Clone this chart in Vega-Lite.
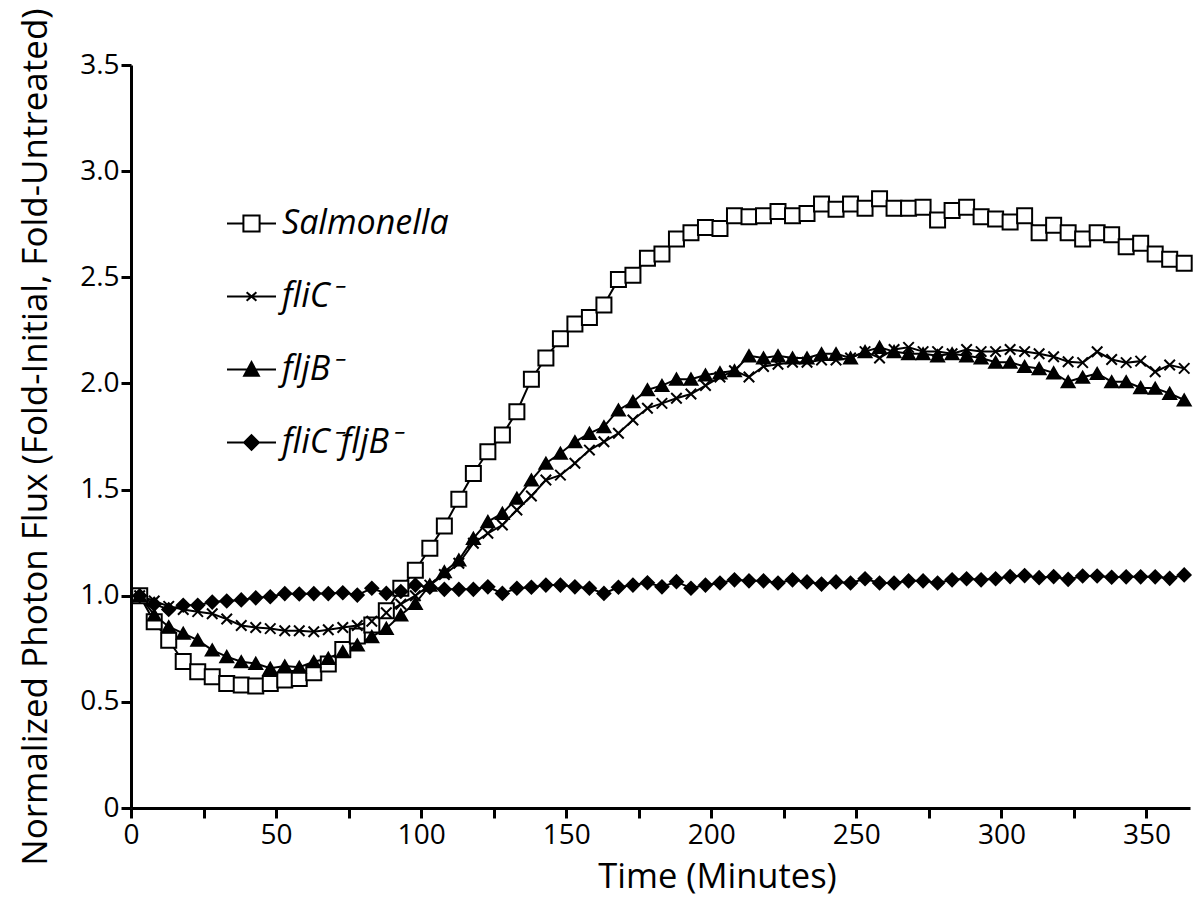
{
"$schema": "https://vega.github.io/schema/vega-lite/v6.json",
"width": 1059, "height": 743,
"autosize": {"type": "none"},
"padding": {"left": 131, "top": 65, "right": 11, "bottom": 107},
"background": "white",
"config": {"view": {"stroke": null},
  "legend": {"orient": "none", "legendX": 95, "legendY": 133, "title": null, "padding": 0,
    "labelFont": "Open Sans", "labelFontStyle": "italic", "labelFontSize": 34, "labelColor": "black", "labelOffset": 5, "labelLimit": 0,
    "symbolSize": 2401, "symbolStrokeWidth": 2, "symbolOpacity": 1, "rowPadding": 30}},
"data": {"values": [
{"t":3,"s":"Salmonella","v":1.00},{"t":8,"s":"Salmonella","v":0.877},{"t":13,"s":"Salmonella","v":0.79},{"t":18,"s":"Salmonella","v":0.69},{"t":23,"s":"Salmonella","v":0.642},{"t":28,"s":"Salmonella","v":0.618},{"t":33,"s":"Salmonella","v":0.587},{"t":38,"s":"Salmonella","v":0.579},{"t":43,"s":"Salmonella","v":0.575},{"t":48,"s":"Salmonella","v":0.587},
{"t":53,"s":"Salmonella","v":0.603},{"t":58,"s":"Salmonella","v":0.61},{"t":63,"s":"Salmonella","v":0.637},{"t":68,"s":"Salmonella","v":0.678},{"t":73,"s":"Salmonella","v":0.747},{"t":78,"s":"Salmonella","v":0.81},{"t":83,"s":"Salmonella","v":0.862},{"t":88,"s":"Salmonella","v":0.929},{"t":93,"s":"Salmonella","v":1.035},{"t":98,"s":"Salmonella","v":1.12},
{"t":103,"s":"Salmonella","v":1.223},{"t":108,"s":"Salmonella","v":1.328},{"t":113,"s":"Salmonella","v":1.454},{"t":118,"s":"Salmonella","v":1.576},{"t":123,"s":"Salmonella","v":1.678},{"t":128,"s":"Salmonella","v":1.757},{"t":133,"s":"Salmonella","v":1.867},{"t":138,"s":"Salmonella","v":2.02},{"t":143,"s":"Salmonella","v":2.12},{"t":148,"s":"Salmonella","v":2.21},
{"t":153,"s":"Salmonella","v":2.28},{"t":158,"s":"Salmonella","v":2.31},{"t":163,"s":"Salmonella","v":2.37},{"t":168,"s":"Salmonella","v":2.49},{"t":173,"s":"Salmonella","v":2.51},{"t":178,"s":"Salmonella","v":2.59},{"t":183,"s":"Salmonella","v":2.61},{"t":188,"s":"Salmonella","v":2.68},{"t":193,"s":"Salmonella","v":2.71},{"t":198,"s":"Salmonella","v":2.735},
{"t":203,"s":"Salmonella","v":2.73},{"t":208,"s":"Salmonella","v":2.79},{"t":213,"s":"Salmonella","v":2.785},{"t":218,"s":"Salmonella","v":2.79},{"t":223,"s":"Salmonella","v":2.81},{"t":228,"s":"Salmonella","v":2.79},{"t":233,"s":"Salmonella","v":2.80},{"t":238,"s":"Salmonella","v":2.845},{"t":243,"s":"Salmonella","v":2.82},{"t":248,"s":"Salmonella","v":2.845},
{"t":253,"s":"Salmonella","v":2.825},{"t":258,"s":"Salmonella","v":2.87},{"t":263,"s":"Salmonella","v":2.825},{"t":268,"s":"Salmonella","v":2.825},{"t":273,"s":"Salmonella","v":2.83},{"t":278,"s":"Salmonella","v":2.77},{"t":283,"s":"Salmonella","v":2.815},{"t":288,"s":"Salmonella","v":2.83},{"t":293,"s":"Salmonella","v":2.785},{"t":298,"s":"Salmonella","v":2.775},
{"t":303,"s":"Salmonella","v":2.76},{"t":308,"s":"Salmonella","v":2.79},{"t":313,"s":"Salmonella","v":2.71},{"t":318,"s":"Salmonella","v":2.745},{"t":323,"s":"Salmonella","v":2.71},{"t":328,"s":"Salmonella","v":2.68},{"t":333,"s":"Salmonella","v":2.71},{"t":338,"s":"Salmonella","v":2.70},{"t":343,"s":"Salmonella","v":2.644},{"t":348,"s":"Salmonella","v":2.66},
{"t":353,"s":"Salmonella","v":2.61},{"t":358,"s":"Salmonella","v":2.585},{"t":363,"s":"Salmonella","v":2.566},
{"t":3,"s":"fliC\u207b","v":1.00},{"t":8,"s":"fliC\u207b","v":0.975},{"t":13,"s":"fliC\u207b","v":0.95},{"t":18,"s":"fliC\u207b","v":0.935},{"t":23,"s":"fliC\u207b","v":0.925},{"t":28,"s":"fliC\u207b","v":0.915},{"t":33,"s":"fliC\u207b","v":0.89},{"t":38,"s":"fliC\u207b","v":0.86},{"t":43,"s":"fliC\u207b","v":0.85},{"t":48,"s":"fliC\u207b","v":0.845},
{"t":53,"s":"fliC\u207b","v":0.835},{"t":58,"s":"fliC\u207b","v":0.835},{"t":63,"s":"fliC\u207b","v":0.83},{"t":68,"s":"fliC\u207b","v":0.84},{"t":73,"s":"fliC\u207b","v":0.85},{"t":78,"s":"fliC\u207b","v":0.86},{"t":83,"s":"fliC\u207b","v":0.88},{"t":88,"s":"fliC\u207b","v":0.92},{"t":93,"s":"fliC\u207b","v":0.96},{"t":98,"s":"fliC\u207b","v":1.00},
{"t":103,"s":"fliC\u207b","v":1.05},{"t":108,"s":"fliC\u207b","v":1.10},{"t":113,"s":"fliC\u207b","v":1.153},{"t":118,"s":"fliC\u207b","v":1.247},{"t":123,"s":"fliC\u207b","v":1.294},{"t":128,"s":"fliC\u207b","v":1.333},{"t":133,"s":"fliC\u207b","v":1.404},{"t":138,"s":"fliC\u207b","v":1.47},{"t":143,"s":"fliC\u207b","v":1.545},{"t":148,"s":"fliC\u207b","v":1.568},
{"t":153,"s":"fliC\u207b","v":1.624},{"t":158,"s":"fliC\u207b","v":1.686},{"t":163,"s":"fliC\u207b","v":1.725},{"t":168,"s":"fliC\u207b","v":1.765},{"t":173,"s":"fliC\u207b","v":1.828},{"t":178,"s":"fliC\u207b","v":1.883},{"t":183,"s":"fliC\u207b","v":1.906},{"t":188,"s":"fliC\u207b","v":1.93},{"t":193,"s":"fliC\u207b","v":1.95},{"t":198,"s":"fliC\u207b","v":1.99},
{"t":203,"s":"fliC\u207b","v":2.03},{"t":208,"s":"fliC\u207b","v":2.06},{"t":213,"s":"fliC\u207b","v":2.03},{"t":218,"s":"fliC\u207b","v":2.08},{"t":223,"s":"fliC\u207b","v":2.09},{"t":228,"s":"fliC\u207b","v":2.10},{"t":233,"s":"fliC\u207b","v":2.10},{"t":238,"s":"fliC\u207b","v":2.11},{"t":243,"s":"fliC\u207b","v":2.11},{"t":248,"s":"fliC\u207b","v":2.12},
{"t":253,"s":"fliC\u207b","v":2.15},{"t":258,"s":"fliC\u207b","v":2.12},{"t":263,"s":"fliC\u207b","v":2.16},{"t":268,"s":"fliC\u207b","v":2.17},{"t":273,"s":"fliC\u207b","v":2.15},{"t":278,"s":"fliC\u207b","v":2.15},{"t":283,"s":"fliC\u207b","v":2.14},{"t":288,"s":"fliC\u207b","v":2.16},{"t":293,"s":"fliC\u207b","v":2.15},{"t":298,"s":"fliC\u207b","v":2.15},
{"t":303,"s":"fliC\u207b","v":2.16},{"t":308,"s":"fliC\u207b","v":2.15},{"t":313,"s":"fliC\u207b","v":2.14},{"t":318,"s":"fliC\u207b","v":2.126},{"t":323,"s":"fliC\u207b","v":2.102},{"t":328,"s":"fliC\u207b","v":2.098},{"t":333,"s":"fliC\u207b","v":2.149},{"t":338,"s":"fliC\u207b","v":2.113},{"t":343,"s":"fliC\u207b","v":2.098},{"t":348,"s":"fliC\u207b","v":2.105},
{"t":353,"s":"fliC\u207b","v":2.055},{"t":358,"s":"fliC\u207b","v":2.087},{"t":363,"s":"fliC\u207b","v":2.071},
{"t":3,"s":"fljB\u207b","v":1.00},{"t":8,"s":"fljB\u207b","v":0.909},{"t":13,"s":"fljB\u207b","v":0.854},{"t":18,"s":"fljB\u207b","v":0.823},{"t":23,"s":"fljB\u207b","v":0.791},{"t":28,"s":"fljB\u207b","v":0.744},{"t":33,"s":"fljB\u207b","v":0.713},{"t":38,"s":"fljB\u207b","v":0.689},{"t":43,"s":"fljB\u207b","v":0.681},{"t":48,"s":"fljB\u207b","v":0.658},
{"t":53,"s":"fljB\u207b","v":0.669},{"t":58,"s":"fljB\u207b","v":0.663},{"t":63,"s":"fljB\u207b","v":0.689},{"t":68,"s":"fljB\u207b","v":0.705},{"t":73,"s":"fljB\u207b","v":0.736},{"t":78,"s":"fljB\u207b","v":0.768},{"t":83,"s":"fljB\u207b","v":0.807},{"t":88,"s":"fljB\u207b","v":0.846},{"t":93,"s":"fljB\u207b","v":0.909},{"t":98,"s":"fljB\u207b","v":0.964},
{"t":103,"s":"fljB\u207b","v":1.05},{"t":108,"s":"fljB\u207b","v":1.113},{"t":113,"s":"fljB\u207b","v":1.168},{"t":118,"s":"fljB\u207b","v":1.27},{"t":123,"s":"fljB\u207b","v":1.349},{"t":128,"s":"fljB\u207b","v":1.388},{"t":133,"s":"fljB\u207b","v":1.459},{"t":138,"s":"fljB\u207b","v":1.545},{"t":143,"s":"fljB\u207b","v":1.624},{"t":148,"s":"fljB\u207b","v":1.671},
{"t":153,"s":"fljB\u207b","v":1.725},{"t":158,"s":"fljB\u207b","v":1.765},{"t":163,"s":"fljB\u207b","v":1.796},{"t":168,"s":"fljB\u207b","v":1.875},{"t":173,"s":"fljB\u207b","v":1.914},{"t":178,"s":"fljB\u207b","v":1.97},{"t":183,"s":"fljB\u207b","v":1.99},{"t":188,"s":"fljB\u207b","v":2.02},{"t":193,"s":"fljB\u207b","v":2.02},{"t":198,"s":"fljB\u207b","v":2.04},
{"t":203,"s":"fljB\u207b","v":2.05},{"t":208,"s":"fljB\u207b","v":2.06},{"t":213,"s":"fljB\u207b","v":2.13},{"t":218,"s":"fljB\u207b","v":2.12},{"t":223,"s":"fljB\u207b","v":2.13},{"t":228,"s":"fljB\u207b","v":2.12},{"t":233,"s":"fljB\u207b","v":2.12},{"t":238,"s":"fljB\u207b","v":2.14},{"t":243,"s":"fljB\u207b","v":2.14},{"t":248,"s":"fljB\u207b","v":2.12},
{"t":253,"s":"fljB\u207b","v":2.15},{"t":258,"s":"fljB\u207b","v":2.17},{"t":263,"s":"fljB\u207b","v":2.15},{"t":268,"s":"fljB\u207b","v":2.14},{"t":273,"s":"fljB\u207b","v":2.14},{"t":278,"s":"fljB\u207b","v":2.13},{"t":283,"s":"fljB\u207b","v":2.14},{"t":288,"s":"fljB\u207b","v":2.13},{"t":293,"s":"fljB\u207b","v":2.12},{"t":298,"s":"fljB\u207b","v":2.10},
{"t":303,"s":"fljB\u207b","v":2.10},{"t":308,"s":"fljB\u207b","v":2.08},{"t":313,"s":"fljB\u207b","v":2.07},{"t":318,"s":"fljB\u207b","v":2.05},{"t":323,"s":"fljB\u207b","v":2.008},{"t":328,"s":"fljB\u207b","v":2.029},{"t":333,"s":"fljB\u207b","v":2.047},{"t":338,"s":"fljB\u207b","v":2.008},{"t":343,"s":"fljB\u207b","v":2.008},{"t":348,"s":"fljB\u207b","v":1.98},
{"t":353,"s":"fljB\u207b","v":1.977},{"t":358,"s":"fljB\u207b","v":1.953},{"t":363,"s":"fljB\u207b","v":1.922},
{"t":3,"s":"fliC\u207bfljB\u207b","v":1.00},{"t":8,"s":"fliC\u207bfljB\u207b","v":0.96},{"t":13,"s":"fliC\u207bfljB\u207b","v":0.935},{"t":18,"s":"fliC\u207bfljB\u207b","v":0.955},{"t":23,"s":"fliC\u207bfljB\u207b","v":0.955},{"t":28,"s":"fliC\u207bfljB\u207b","v":0.97},{"t":33,"s":"fliC\u207bfljB\u207b","v":0.975},{"t":38,"s":"fliC\u207bfljB\u207b","v":0.98},{"t":43,"s":"fliC\u207bfljB\u207b","v":0.99},{"t":48,"s":"fliC\u207bfljB\u207b","v":0.995},
{"t":53,"s":"fliC\u207bfljB\u207b","v":1.01},{"t":58,"s":"fliC\u207bfljB\u207b","v":1.008},{"t":63,"s":"fliC\u207bfljB\u207b","v":1.01},{"t":68,"s":"fliC\u207bfljB\u207b","v":1.01},{"t":73,"s":"fliC\u207bfljB\u207b","v":1.014},{"t":78,"s":"fliC\u207bfljB\u207b","v":1.003},{"t":83,"s":"fliC\u207bfljB\u207b","v":1.035},{"t":88,"s":"fliC\u207bfljB\u207b","v":1.011},{"t":93,"s":"fliC\u207bfljB\u207b","v":1.02},{"t":98,"s":"fliC\u207bfljB\u207b","v":1.05},
{"t":103,"s":"fliC\u207bfljB\u207b","v":1.04},{"t":108,"s":"fliC\u207bfljB\u207b","v":1.03},{"t":113,"s":"fliC\u207bfljB\u207b","v":1.03},{"t":118,"s":"fliC\u207bfljB\u207b","v":1.03},{"t":123,"s":"fliC\u207bfljB\u207b","v":1.042},{"t":128,"s":"fliC\u207bfljB\u207b","v":1.011},{"t":133,"s":"fliC\u207bfljB\u207b","v":1.035},{"t":138,"s":"fliC\u207bfljB\u207b","v":1.04},{"t":143,"s":"fliC\u207bfljB\u207b","v":1.05},{"t":148,"s":"fliC\u207bfljB\u207b","v":1.05},
{"t":153,"s":"fliC\u207bfljB\u207b","v":1.042},{"t":158,"s":"fliC\u207bfljB\u207b","v":1.035},{"t":163,"s":"fliC\u207bfljB\u207b","v":1.011},{"t":168,"s":"fliC\u207bfljB\u207b","v":1.04},{"t":173,"s":"fliC\u207bfljB\u207b","v":1.05},{"t":178,"s":"fliC\u207bfljB\u207b","v":1.061},{"t":183,"s":"fliC\u207bfljB\u207b","v":1.042},{"t":188,"s":"fliC\u207bfljB\u207b","v":1.066},{"t":193,"s":"fliC\u207bfljB\u207b","v":1.035},{"t":198,"s":"fliC\u207bfljB\u207b","v":1.05},
{"t":203,"s":"fliC\u207bfljB\u207b","v":1.06},{"t":208,"s":"fliC\u207bfljB\u207b","v":1.075},{"t":213,"s":"fliC\u207bfljB\u207b","v":1.07},{"t":218,"s":"fliC\u207bfljB\u207b","v":1.07},{"t":223,"s":"fliC\u207bfljB\u207b","v":1.06},{"t":228,"s":"fliC\u207bfljB\u207b","v":1.075},{"t":233,"s":"fliC\u207bfljB\u207b","v":1.065},{"t":238,"s":"fliC\u207bfljB\u207b","v":1.055},{"t":243,"s":"fliC\u207bfljB\u207b","v":1.065},{"t":248,"s":"fliC\u207bfljB\u207b","v":1.06},
{"t":253,"s":"fliC\u207bfljB\u207b","v":1.08},{"t":258,"s":"fliC\u207bfljB\u207b","v":1.06},{"t":263,"s":"fliC\u207bfljB\u207b","v":1.06},{"t":268,"s":"fliC\u207bfljB\u207b","v":1.07},{"t":273,"s":"fliC\u207bfljB\u207b","v":1.07},{"t":278,"s":"fliC\u207bfljB\u207b","v":1.06},{"t":283,"s":"fliC\u207bfljB\u207b","v":1.075},{"t":288,"s":"fliC\u207bfljB\u207b","v":1.08},{"t":293,"s":"fliC\u207bfljB\u207b","v":1.075},{"t":298,"s":"fliC\u207bfljB\u207b","v":1.08},
{"t":303,"s":"fliC\u207bfljB\u207b","v":1.09},{"t":308,"s":"fliC\u207bfljB\u207b","v":1.095},{"t":313,"s":"fliC\u207bfljB\u207b","v":1.085},{"t":318,"s":"fliC\u207bfljB\u207b","v":1.09},{"t":323,"s":"fliC\u207bfljB\u207b","v":1.077},{"t":328,"s":"fliC\u207bfljB\u207b","v":1.093},{"t":333,"s":"fliC\u207bfljB\u207b","v":1.093},{"t":338,"s":"fliC\u207bfljB\u207b","v":1.087},{"t":343,"s":"fliC\u207bfljB\u207b","v":1.089},{"t":348,"s":"fliC\u207bfljB\u207b","v":1.089},
{"t":353,"s":"fliC\u207bfljB\u207b","v":1.089},{"t":358,"s":"fliC\u207bfljB\u207b","v":1.082},{"t":363,"s":"fliC\u207bfljB\u207b","v":1.098}
]},
"encoding": {
  "x": {"field": "t", "type": "quantitative",
    "scale": {"domain": [0, 365], "nice": false, "zero": false},
    "axis": {"values": [0,25,50,75,100,125,150,175,200,225,250,275,300,325,350],
      "labelExpr": "datum.value % 50 === 0 ? datum.label : ''",
      "title": "Time (Minutes)", "titleX": 586, "titleAlign": "center", "titleAnchor": null,
      "titleFont": "Open Sans", "titleFontSize": 34.5, "titleFontWeight": "normal", "titleColor": "black", "titlePadding": 11,
      "labelFont": "Open Sans", "labelFontSize": 28, "labelColor": "black", "labelPadding": 3, "labelFlush": false, "labelOverlap": false,
      "tickSize": 10, "tickWidth": 3, "tickColor": "black", "domainWidth": 3, "domainColor": "black", "grid": false}},
  "y": {"field": "v", "type": "quantitative",
    "scale": {"domain": [0, 3.5], "nice": false},
    "axis": {"values": [0,0.5,1,1.5,2,2.5,3,3.5],
      "labelExpr": "datum.value === 0 ? '0' : format(datum.value, '.1f')",
      "title": "Normalized Photon Flux (Fold-Initial, Fold-Untreated)",
      "titleFont": "Open Sans", "titleFontSize": 35, "titleFontWeight": "normal", "titleColor": "black", "titlePadding": 26,
      "labelFont": "Open Sans", "labelFontSize": 28, "labelColor": "black", "labelPadding": 2, "labelFlush": false, "labelOverlap": false,
      "tickSize": 10, "tickWidth": 3, "tickColor": "black", "domainWidth": 3, "domainColor": "black", "grid": false}}
},
"layer": [
  {"mark": {"type": "line", "color": "black", "strokeWidth": 2},
   "encoding": {"detail": {"field": "s"}}},
  {"mark": {"type": "point", "filled": true, "stroke": "black", "strokeWidth": 2, "opacity": 1},
   "encoding": {
     "shape": {"condition": [{"test": "datum.s === 'Salmonella'", "value": "square"}, {"test": "datum.s === 'fliC\u207b'", "value": "M-1,-1L1,1M-1,1L1,-1"}, {"test": "datum.s === 'fljB\u207b'", "value": "triangle-up"}], "value": "diamond"},
     "fill": {"condition": {"test": "datum.s === 'Salmonella'", "value": "white"}, "value": "black"},
     "size": {"condition": [{"test": "datum.s === 'Salmonella'", "value": 225}, {"test": "datum.s === 'fliC\u207b'", "value": 110}], "value": 165}
   }},
  {"mark": {"type": "point", "filled": true, "strokeWidth": 2, "opacity": 0},
   "encoding": {
     "shape": {"field": "s", "type": "nominal",
       "scale": {"domain": ["Salmonella", "fliC\u207b", "fljB\u207b", "fliC\u207bfljB\u207b"],
                 "range": ["M-1,0L-0.33,0M0.33,0L1,0M-0.33,-0.33L0.33,-0.33L0.33,0.33L-0.33,0.33Z", "M-1,0L1,0M-0.2,-0.17L0.2,0.17M-0.2,0.17L0.2,-0.17", "M-1,0L1,0M-0.3,0.25L0,-0.3L0.3,0.25Z", "M-1,0L1,0M-0.3,0L0,-0.3L0.3,0L0,0.3Z"]}},
     "fill": {"field": "s", "type": "nominal",
       "scale": {"domain": ["Salmonella", "fliC\u207b", "fljB\u207b", "fliC\u207bfljB\u207b"],
                 "range": ["white", "black", "black", "black"]}},
     "stroke": {"field": "s", "type": "nominal",
       "scale": {"domain": ["Salmonella", "fliC\u207b", "fljB\u207b", "fliC\u207bfljB\u207b"],
                 "range": ["black", "black", "black", "black"]}}
   }}
]
}
